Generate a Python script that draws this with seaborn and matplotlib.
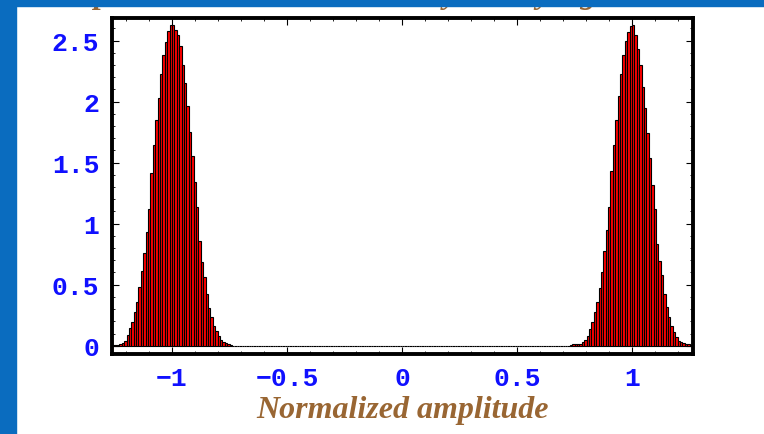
import numpy as np
import pandas as pd
import matplotlib
matplotlib.use("Agg")
import matplotlib.pyplot as plt
import seaborn as sns
from matplotlib.patches import Rectangle
from matplotlib.ticker import MultipleLocator, FixedLocator, FixedFormatter

# ---------------- data ----------------
bin_width = 1 / 96
n_bins = 242
first_edge_index = -121          # first bin edge = -121/96

# heights of the 50 bins around -1 (starting at the left axis edge)
left_peak = [0.005, 0.005, 0.005, 0.011, 0.022, 0.041, 0.088, 0.143, 0.197, 0.274,
             0.362, 0.480, 0.611, 0.759, 0.932, 1.118, 1.417, 1.645, 1.850, 2.034,
             2.226, 2.379, 2.489, 2.577, 2.626, 2.626, 2.590, 2.544, 2.453, 2.303,
             2.152, 1.968, 1.754, 1.557, 1.343, 1.138, 0.855, 0.685, 0.562, 0.425,
             0.313, 0.233, 0.164, 0.123, 0.082, 0.049, 0.027, 0.019, 0.014, 0.005]
left_first_bin = 0

# heights of the 51 bins around +1 (ending at the right axis edge)
right_peak = [0.008, 0.010, 0.010, 0.011, 0.014, 0.027, 0.049, 0.082, 0.137, 0.192,
              0.274, 0.362, 0.471, 0.603, 0.773, 0.946, 1.138, 1.431, 1.645, 1.850,
              2.050, 2.226, 2.379, 2.500, 2.571, 2.618, 2.626, 2.549, 2.434, 2.303,
              2.124, 1.946, 1.741, 1.535, 1.316, 1.118, 0.836, 0.691, 0.576, 0.425,
              0.315, 0.233, 0.159, 0.110, 0.069, 0.041, 0.027, 0.022, 0.014, 0.014,
              0.008]
right_first_bin = 191

x_ticks = [-1, -0.5, 0, 0.5, 1]
x_tick_labels = ["\u22121", "\u22120.5", "0", "0.5", "1"]
y_ticks = [0, 0.5, 1, 1.5, 2, 2.5]
y_tick_labels = ["0", "0.5", "1", "1.5", "2", "2.5"]
x_label = "Normalized amplitude"
title_text = "Amplitude distribution in noisy binary signal"

# ---------------- build histogram table ----------------
heights = np.zeros(n_bins)
heights[left_first_bin:left_first_bin + len(left_peak)] = left_peak
heights[right_first_bin:right_first_bin + len(right_peak)] = right_peak
edges = (np.arange(n_bins + 1) + first_edge_index) * bin_width
centers = (edges[:-1] + edges[1:]) / 2
df = pd.DataFrame({"amplitude": centers, "density": heights})

# ---------------- plot ----------------
sns.set_theme(style="white")
plt.rcParams["font.family"] = ["DejaVu Sans"]

W, H = 764, 435
fig = plt.figure(figsize=(W / 100, H / 100), dpi=100)
fig.patch.set_facecolor("white")

ax_l, ax_r, ax_t, ax_b = 112, 693, 18.5, 355
ax = fig.add_axes([ax_l / W, (H - ax_b) / H, (ax_r - ax_l) / W, (ax_b - ax_t) / H])

sns.histplot(data=df, x="amplitude", weights="density", bins=list(edges), ax=ax,
             stat="count", color="#ff0000", edgecolor="black", linewidth=0.8,
             alpha=1.0)

ax.set_xlim(-1.261, 1.265)
ax.set_ylim(-0.068, 2.690)

for sp in ax.spines.values():
    sp.set_visible(True)
    sp.set_color("black")
    sp.set_linewidth(2.8)

ax.xaxis.set_major_locator(FixedLocator(x_ticks))
ax.xaxis.set_major_formatter(FixedFormatter(x_tick_labels))
ax.yaxis.set_major_locator(FixedLocator(y_ticks))
ax.yaxis.set_major_formatter(FixedFormatter(y_tick_labels))
ax.xaxis.set_minor_locator(MultipleLocator(0.1))
ax.yaxis.set_minor_locator(MultipleLocator(0.1))
ax.tick_params(which="both", direction="in", top=True, right=True,
               bottom=True, left=True, color="black")
ax.tick_params(which="major", length=5, width=0.8)
ax.tick_params(which="minor", length=2.5, width=0.6)
ax.tick_params(axis="x", which="major", pad=9)
ax.tick_params(axis="y", which="major", pad=9)

for lab in ax.get_xticklabels() + ax.get_yticklabels():
    lab.set_fontfamily(["Liberation Mono", "DejaVu Sans Mono"])
    lab.set_fontweight("bold")
    lab.set_fontsize(19)
    lab.set_color("#1010ff")

ax.set_ylabel("")
ax.set_xlabel(x_label, family=["Liberation Serif"], style="italic", weight="bold",
              size=23, color="#996633", labelpad=3)
ax.grid(False)

# title (mostly hidden behind the top band, as in the reference)
fig.text(49 / W, 1 - 3.5 / H, title_text, ha="left", va="baseline",
         family=["Liberation Serif"], style="italic", weight="bold", size=23,
         color="#996633")

# blue frame bands
fig.patches.append(Rectangle((0, 1 - 7 / H), 1, 7 / H, transform=fig.transFigure,
                             color="#0a6cbf", zorder=10))
fig.patches.append(Rectangle((0, 0), 16 / W, 1, transform=fig.transFigure,
                             color="#0a6cbf", zorder=10))

fig.savefig("out.png", dpi=100, facecolor="white")
